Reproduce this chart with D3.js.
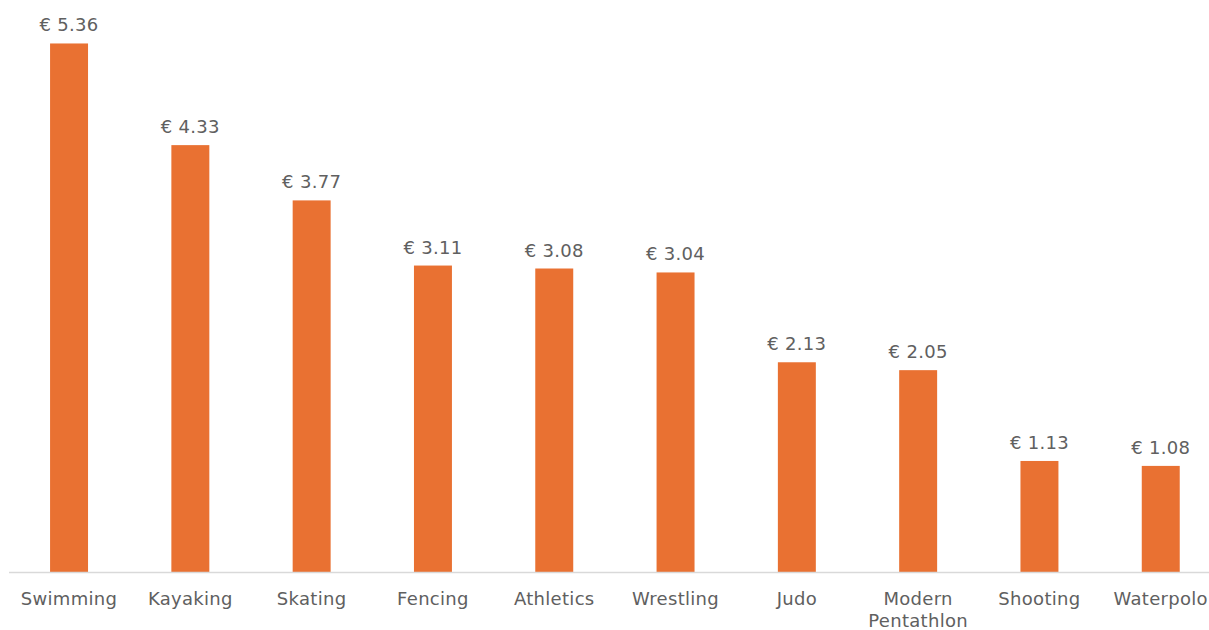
<!DOCTYPE html>
<html>
<head>
<meta charset="utf-8">
<script src="https://cdn.jsdelivr.net/npm/d3@7"></script>
<style>
  body { margin: 0; background: #fff; }
  text { font-family: "DejaVu Sans", Verdana, sans-serif; fill: #606060; letter-spacing: 0.3px; }
</style>
</head>
<body>
<div id="container"></div>
<script>
var sports = ['Swimming', 'Kayaking', 'Skating', 'Fencing', 'Athletics', 'Wrestling', 'Judo', 'Modern Pentathlon', 'Shooting', 'Waterpolo']
var prices = [5.36, 4.33, 3.77, 3.11, 3.08, 3.04, 2.13, 2.05, 1.13, 1.08]

var WIDTH = 1209
var HEIGHT = 630
var base = 572.5

var svg = d3.select('div#container').append('svg')
  .attr('width', WIDTH)
  .attr('height', HEIGHT)

var x = d3.scaleBand()
  .domain(sports)
  .range([8.4, 1221.4])
  .paddingInner(0.687)
  .paddingOuter(0.3435)

var y = d3.scaleLinear()
  .domain([0, 6])
  .range([base, base - 6 * 98.7])

svg.selectAll('rect.bar')
  .data(prices)
  .enter().append('rect')
  .attr('class', 'bar')
  .attr('x', function (d, i) { return x(sports[i]) })
  .attr('y', function (d) { return y(d) })
  .attr('width', x.bandwidth())
  .attr('height', function (d) { return y(0) - y(d) })
  .attr('fill', '#E97132')

// axis line
svg.append('line')
  .attr('x1', 9).attr('x2', WIDTH)
  .attr('y1', base).attr('y2', base)
  .attr('stroke', '#D9D9D9')
  .attr('stroke-width', 1.3)

// value labels
svg.selectAll('text.val')
  .data(prices)
  .enter().append('text')
  .attr('class', 'val')
  .attr('x', function (d, i) { return x(sports[i]) + x.bandwidth() / 2 })
  .attr('y', function (d) { return y(d) - 12 })
  .attr('text-anchor', 'middle')
  .style('font-size', '18px')
  .text(function (d) { return '€ ' + d.toFixed(2) })

// category labels
var cat = svg.selectAll('text.cat')
  .data(sports)
  .enter().append('text')
  .attr('class', 'cat')
  .attr('text-anchor', 'middle')
  .attr('x', function (d) { return x(d) + x.bandwidth() / 2 })
  .attr('y', 605)
  .style('font-size', '18px')

cat.each(function (d) {
  var words = d.split(' ')
  var t = d3.select(this)
  words.forEach(function (w, k) {
    t.append('tspan')
      .attr('x', x(d) + x.bandwidth() / 2)
      .attr('dy', k === 0 ? 0 : 22)
      .text(w)
  })
})
</script>
</body>
</html>
